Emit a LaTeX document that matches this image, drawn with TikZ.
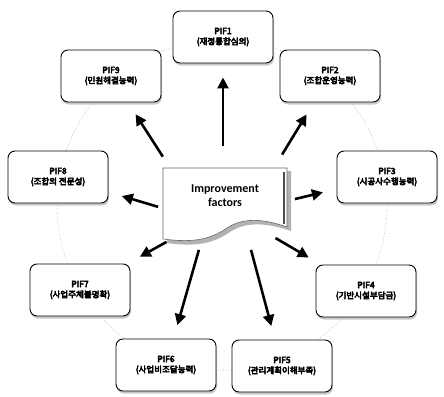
\documentclass[tikz,border=0pt]{standalone}
\usepackage{fontspec}
\setmainfont{Carlito}
\newfontfamily\kr{Noto Sans CJK KR}[FakeBold=6]
\usetikzlibrary{arrows.meta,shadows}
\begin{document}
\begin{tikzpicture}[x=1pt,y=-1pt,
  pif/.style={draw=black, line width=0.9pt, rounded corners=7pt, fill=white,
    minimum width=100pt, minimum height=52pt, align=center, inner sep=2pt,
    font=\kr\fontsize{8.5}{10.5}\selectfont,
    drop shadow={shadow xshift=1pt, shadow yshift=-2.5pt, fill=black!35, opacity=0.6}},
  arr/.style={line width=2.6pt, -{Triangle[length=11pt,width=11pt]}, shorten <=4pt, shorten >=14pt},
  ring/.style={draw=black!35, dotted, line width=0.6pt}]
\useasboundingbox (0,0) rectangle (444,396);
\fill[white] (0,0) rectangle (444,396);
\draw[ring] (222,205) circle[radius=165];
% boxes
\node[pif] (p1) at (223,37) {PIF1\\(재정통합심의)};
\node[pif] (p2) at (330,76) {PIF2\\(조합운영능력)};
\node[pif] (p3) at (387,177) {PIF3\\(시공사수행능력)};
\node[pif] (p4) at (366,291) {PIF4\\(기반시설부담금)};
\node[pif] (p5) at (282,366) {PIF5\\(관리계획이해부족)};
\node[pif] (p6) at (166,365) {PIF6\\(사업비조달능력)};
\node[pif] (p7) at (80,290) {PIF7\\(사업주체불명확)};
\node[pif] (p8) at (58,177) {PIF8\\(조합의 전문성)};
\node[pif] (p9) at (111,76) {PIF9\\(민원해결능력)};
% central document shape
\fill[black!30] (167,171) -- (291,171) -- (291,231)
  .. controls (265,222) and (245,222) .. (230,232)
  .. controls (210,246) and (190,246) .. (167,243) -- cycle;
\draw[fill=white, line width=0.6pt, draw=black!60] (163,168) -- (287,168) -- (287,227)
  .. controls (262,218) and (242,218) .. (227,228)
  .. controls (207,242) and (187,242) .. (163,239) -- cycle;
\draw[black!70, line width=1.2pt] (284,172) -- (284,224);
\node[font=\bfseries\fontsize{12}{14}\selectfont, align=center, inner sep=0pt] (c) at (225,196) {Improvement\\factors};
% arrows
\draw[arr] (223,150) -- (p1);
\draw[arr] (280,158) -- (p2);
\draw[arr] (291,200) -- (p3);
\draw[arr] (272,236) -- (p4);
\draw[arr] (250,246) -- (p5);
\draw[arr] (200,246) -- (p6);
\draw[arr] (170,240) -- (p7);
\draw[arr] (162,208) -- (p8);
\draw[arr] (165,160) -- (p9);
\end{tikzpicture}
\end{document}
